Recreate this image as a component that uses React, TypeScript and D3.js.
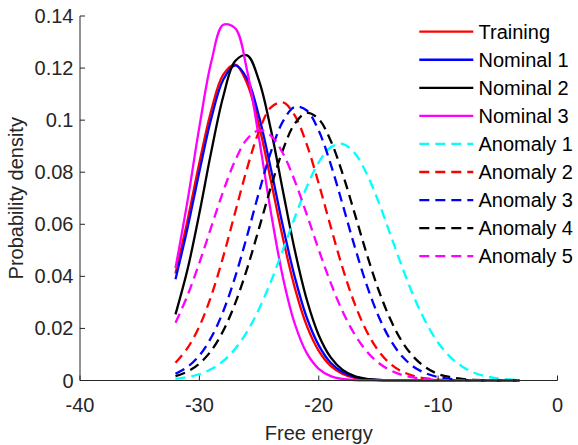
import React from "react";
import * as d3 from "d3";

const xs = [-32, -31, -30, -29, -28, -27, -26, -25, -24, -23, -22, -21, -20, -19, -18, -17, -16, -15, -14, -13, -12, -11, -10, -9, -8, -7, -6, -5, -4, -3.2];

const training = [0.0411, 0.0614, 0.0836, 0.1038, 0.1175, 0.1213, 0.1141, 0.0979, 0.0765, 0.0546, 0.0355, 0.021, 0.0114, 0.0056, 0.0025, 0.001, 0.0004, 0.00013, 0.00004, 0.00001, 0, 0, 0, 0, 0, 0, 0, 0, 0, 0];
const nominal1 = [0.0389, 0.0584, 0.0802, 0.1007, 0.1155, 0.121, 0.1159, 0.1014, 0.0811, 0.0592, 0.0396, 0.0241, 0.0135, 0.0068, 0.0032, 0.0014, 0.0005, 0.0002, 0.00006, 0.00002, 0, 0, 0, 0, 0, 0, 0, 0, 0, 0];
const nominal2 = [0.0254, 0.0425, 0.0642, 0.088, 0.1091, 0.1227, 0.1249, 0.1151, 0.0962, 0.0728, 0.0499, 0.031, 0.0174, 0.0089, 0.0041, 0.0017, 0.00065, 0.00022, 0.00007, 0.00002, 0, 0, 0, 0, 0, 0, 0, 0, 0, 0];
const nominal3 = [0.0432, 0.0688, 0.0974, 0.1224, 0.1366, 0.1353, 0.119, 0.0929, 0.0644, 0.0396, 0.0217, 0.0105, 0.0045, 0.0017, 0.0006, 0.00018, 0.00005, 0.00001, 0, 0, 0, 0, 0, 0, 0, 0, 0, 0, 0, 0];
const anomaly1 = [0.00065, 0.0013, 0.0024, 0.0044, 0.0075, 0.0122, 0.0188, 0.0275, 0.0381, 0.0502, 0.0627, 0.0744, 0.0838, 0.0896, 0.0909, 0.0874, 0.0796, 0.0687, 0.0561, 0.0434, 0.0318, 0.0221, 0.0145, 0.0091, 0.0054, 0.003, 0.0016, 0.0008, 0.0004, 0.0002];
const anomaly2 = [0.0068, 0.0124, 0.0208, 0.0326, 0.0476, 0.0646, 0.0815, 0.0958, 0.1049, 0.1068, 0.1017, 0.0906, 0.0756, 0.0591, 0.0432, 0.0296, 0.019, 0.0114, 0.0064, 0.0034, 0.0017, 0.0008, 0.0003, 0.0001, 0, 0, 0, 0, 0, 0];
const anomaly3 = [0.0026, 0.0052, 0.0096, 0.0166, 0.0266, 0.0398, 0.0556, 0.0724, 0.0879, 0.0995, 0.1051, 0.1037, 0.0959, 0.0831, 0.0676, 0.0516, 0.0369, 0.0248, 0.0156, 0.0092, 0.0051, 0.0027, 0.0013, 0.0006, 0.0003, 0.0001, 0, 0, 0, 0];
const anomaly4 = [0.0017, 0.0034, 0.0065, 0.0115, 0.0191, 0.0296, 0.043, 0.0585, 0.0744, 0.0886, 0.0987, 0.1028, 0.1004, 0.0921, 0.0794, 0.0643, 0.0489, 0.0349, 0.0235, 0.0148, 0.0088, 0.0049, 0.0025, 0.0013, 0.0006, 0.0002, 0.0001, 0, 0, 0];
const anomaly5 = [0.0222, 0.0326, 0.0452, 0.059, 0.0727, 0.0845, 0.0928, 0.0961, 0.094, 0.0872, 0.0766, 0.0637, 0.0502, 0.0375, 0.0265, 0.0178, 0.0113, 0.0068, 0.0039, 0.0021, 0.0011, 0.0005, 0.0002, 0.0001, 0, 0, 0, 0, 0, 0];

const seriesNames = ["Training", "Nominal 1", "Nominal 2", "Nominal 3", "Anomaly 1", "Anomaly 2", "Anomaly 3", "Anomaly 4", "Anomaly 5"];
const seriesValues = [training, nominal1, nominal2, nominal3, anomaly1, anomaly2, anomaly3, anomaly4, anomaly5];
const seriesColors = ["#ff0000", "#0000ff", "#000000", "#ff00ff", "#00ffff", "#ff0000", "#0000ff", "#000000", "#ff00ff"];
const seriesDashed = [false, false, false, false, true, true, true, true, true];

const xTicks = [-40, -30, -20, -10, 0];
const yTicks = [0, 0.02, 0.04, 0.06, 0.08, 0.1, 0.12, 0.14];
const xLabel = "Free energy";
const yLabel = "Probability density";

const W = 578;
const H = 445;
const axisColor = "#262626";
const font = "'Liberation Sans', Arial, Helvetica, sans-serif";

export default function App() {
  const x = d3.scaleLinear().domain([-40, 0]).range([80, 557.5]);
  const y = d3.scaleLinear().domain([0, 0.14]).range([380.5, 16]);
  const line = d3
    .line<[number, number]>()
    .x((d) => x(d[0]))
    .y((d) => y(Math.max(0, d[1])))
    .curve(d3.curveCatmullRom.alpha(0.5));

  const legendX0 = 419.3;
  const legendX1 = 473.3;
  const legendY0 = 31.7;
  const legendDy = 28.06;
  const lw = 2.3;

  return (
    <svg
      width={W}
      height={H}
      style={{ position: "absolute", left: 0, top: 0, background: "#fff" }}
      fontFamily={font}
    >
      <rect x={0} y={0} width={W} height={H} fill="#fff" />
      {seriesValues.map((vals, i) => (
        <path
          key={seriesNames[i]}
          d={line(xs.map((xv, j) => [xv, vals[j]] as [number, number])) || ""}
          fill="none"
          stroke={seriesColors[i]}
          strokeWidth={lw}
          strokeDasharray={seriesDashed[i] ? "10,6" : undefined}
          strokeLinejoin="round"
        />
      ))}
      <line x1={x(-40)} x2={x(0)} y1={y(0)} y2={y(0)} stroke={axisColor} strokeWidth={1} />
      <line x1={x(-40)} x2={x(-40)} y1={y(0)} y2={y(0.14)} stroke={axisColor} strokeWidth={1} />
      {xTicks.map((t) => (
        <g key={"xt" + t}>
          <line x1={x(t)} x2={x(t)} y1={y(0)} y2={y(0) - 5} stroke={axisColor} strokeWidth={1} />
          <text x={x(t)} y={412} textAnchor="middle" fontSize={20} fill={axisColor}>
            {t}
          </text>
        </g>
      ))}
      {yTicks.map((t) => (
        <g key={"yt" + t}>
          <line x1={x(-40)} x2={x(-40) + 5} y1={y(t)} y2={y(t)} stroke={axisColor} strokeWidth={1} />
          <text x={73.5} y={y(t)} dy="0.35em" textAnchor="end" fontSize={20} fill={axisColor}>
            {String(t)}
          </text>
        </g>
      ))}
      <text x={(x(-40) + x(0)) / 2} y={440} textAnchor="middle" fontSize={20} fill={axisColor}>
        {xLabel}
      </text>
      <text
        transform={`translate(23, ${(y(0) + y(0.14)) / 2}) rotate(-90)`}
        textAnchor="middle"
        fontSize={20}
        fill={axisColor}
      >
        {yLabel}
      </text>
      {seriesNames.map((name, i) => {
        const ly = legendY0 + i * legendDy;
        return (
          <g key={"lg" + name}>
            <line
              x1={legendX0}
              x2={legendX1}
              y1={ly}
              y2={ly}
              stroke={seriesColors[i]}
              strokeWidth={lw}
              strokeDasharray={seriesDashed[i] ? "10,6" : undefined}
            />
            <text x={478.5} y={ly} dy="0.35em" fontSize={20} fill="#000">
              {name}
            </text>
          </g>
        );
      })}
    </svg>
  );
}
